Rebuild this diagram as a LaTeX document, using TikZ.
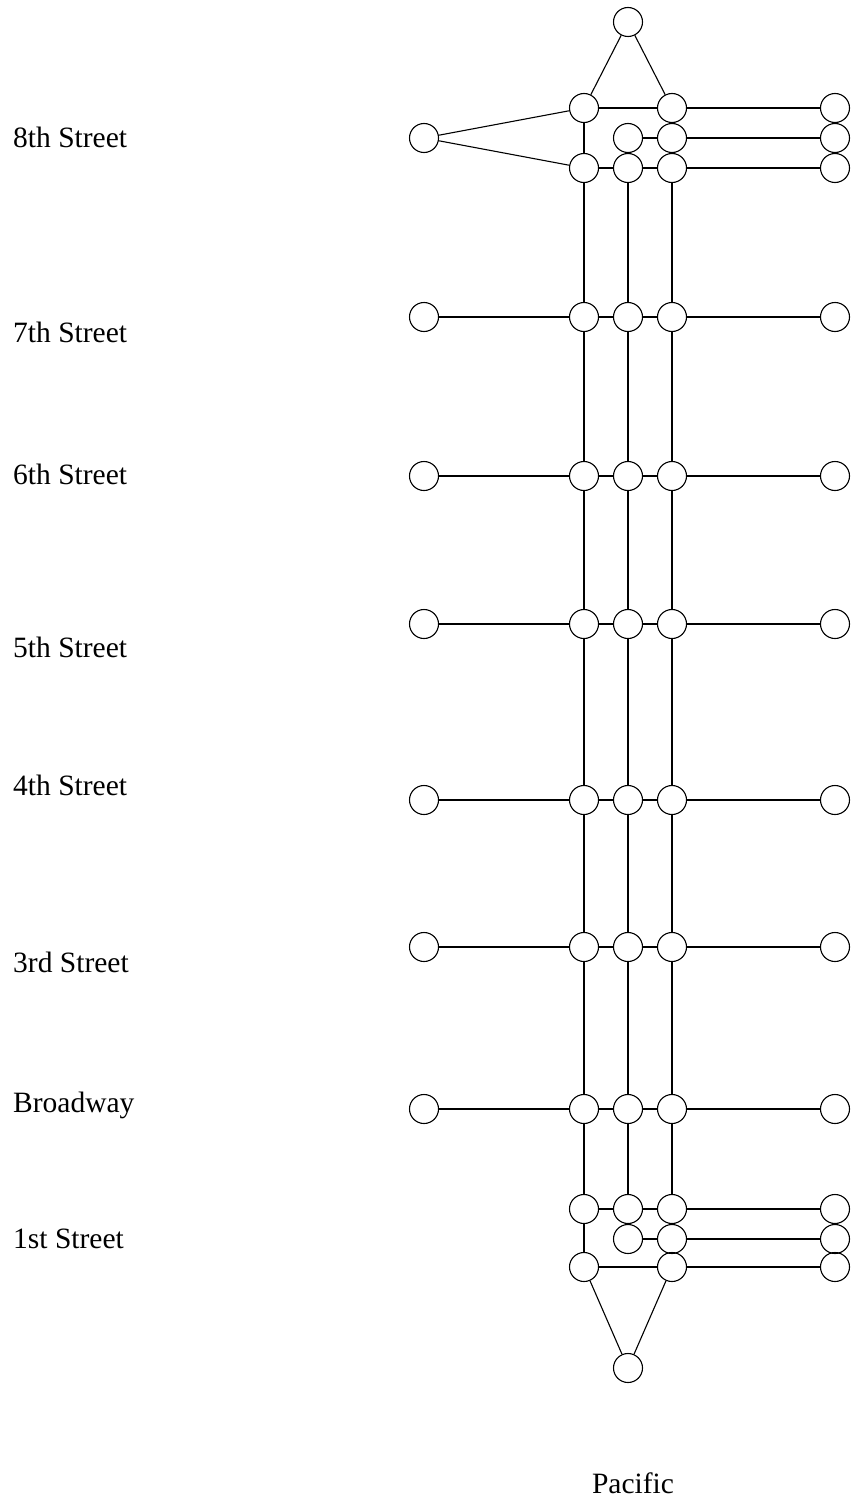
\documentclass[tikz,border=0pt]{standalone}
\usepackage{fontspec}
\setmainfont{Liberation Serif}
\usetikzlibrary{positioning}

\begin{document}
\begin{tikzpicture}[x=1pt, y=-1pt,
    stop/.style={draw, circle, minimum size=29pt, inner sep=0pt, line width=1.1pt},
    road/.style={line width=1.1pt},
    street/.style={anchor=base west, inner sep=0pt, font=\fontsize{29.5}{34}\selectfont}]
\useasboundingbox (0,0) rectangle (854,1501);

% street names
\foreach \s/\txt/\base in {8/8th Street/147, 7/7th Street/342, 6/6th Street/484, 5/5th Street/657,
    4/4th Street/795, 3/3rd Street/972, 2/Broadway/1112, 1/1st Street/1248}
  \node[street] (lbl\s) at (13,\base) {\txt};
\node[inner sep=0pt, anchor=base, font=\fontsize{29.5}{34}\selectfont] (pacific) at (633,1493) {Pacific};

% 8th Street cluster
\node[stop] (n8top) at (628,22) {};
\node[stop] (w8) at (424,138) {};
\node[stop] (a8u) at (584,108) {};
\node[stop] (c8u) at (672,108) {};
\node[stop] (e8u) at (835,108) {};
\node[stop] (b8m) at (628,138) {};
\node[stop] (c8m) at (672,138) {};
\node[stop] (e8m) at (835,138) {};
\node[stop] (a8l) at (584,168) {};
\node[stop] (b8l) at (628,168) {};
\node[stop] (c8l) at (672,168) {};
\node[stop] (e8l) at (835,168) {};
\draw[road] (n8top) -- (a8u) (n8top) -- (c8u);
\draw[road] (w8) -- (a8u) (w8) -- (a8l);
\draw[road] (a8u) -- (c8u) -- (e8u);
\draw[road] (b8m) -- (c8m) -- (e8m);
\draw[road] (a8l) -- (b8l) -- (c8l) -- (e8l);
\draw[road] (a8u) -- (a8l);

% plain streets
\foreach \s/\y in {7/317, 6/476, 5/624, 4/800, 3/947, 2/1109} {
  \node[stop] (w\s) at (424,\y) {};
  \node[stop] (a\s) at (584,\y) {};
  \node[stop] (b\s) at (628,\y) {};
  \node[stop] (c\s) at (672,\y) {};
  \node[stop] (e\s) at (835,\y) {};
  \draw[road] (w\s) -- (a\s) -- (b\s) -- (c\s) -- (e\s);
}

% 1st Street cluster
\node[stop] (a1u) at (584,1209) {};
\node[stop] (b1u) at (628,1209) {};
\node[stop] (c1u) at (672,1209) {};
\node[stop] (e1u) at (835,1209) {};
\node[stop] (b1m) at (628,1239) {};
\node[stop] (c1m) at (672,1239) {};
\node[stop] (e1m) at (835,1239) {};
\node[stop] (a1l) at (584,1267) {};
\node[stop] (c1l) at (672,1267) {};
\node[stop] (e1l) at (835,1267) {};
\node[stop] (n1bot) at (628,1368) {};
\draw[road] (a1u) -- (b1u) -- (c1u) -- (e1u);
\draw[road] (b1m) -- (c1m) -- (e1m);
\draw[road] (a1l) -- (c1l) -- (e1l);
\draw[road] (a1u) -- (a1l);
\draw[road] (n1bot) -- (a1l) (n1bot) -- (c1l);

% avenues
\foreach \col in {a,b,c}
  \draw[road] (\col8l) -- (\col7) -- (\col6) -- (\col5) -- (\col4) -- (\col3) -- (\col2) -- (\col1u);
\end{tikzpicture}
\end{document}
